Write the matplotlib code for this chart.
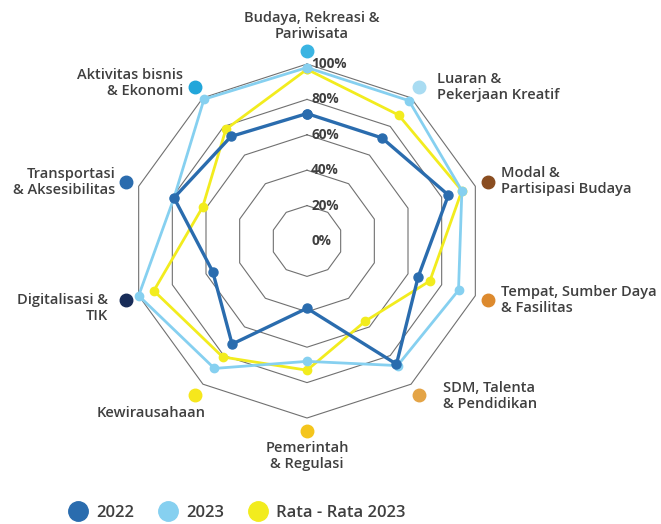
import numpy as np
import matplotlib.pyplot as plt
from matplotlib.lines import Line2D

plt.rcParams['font.family'] = ['Open Sans', 'DejaVu Sans']

categories = ['Budaya, Rekreasi &\nPariwisata', 'Luaran &\nPekerjaan Kreatif',
              'Modal &\nPartisipasi Budaya', 'Tempat, Sumber Daya\n& Fasilitas',
              'SDM, Talenta\n& Pendidikan', 'Pemerintah\n& Regulasi', 'Kewirausahaan',
              'Digitalisasi &\nTIK', 'Transportasi\n& Aksesibilitas',
              'Aktivitas bisnis\n& Ekonomi']
cat_colors = ['#3ab4e2', '#a9dcf2', '#8a4d20', '#dd8a2e', '#e4a446',
              '#f4c51c', '#f6e71c', '#182c58', '#2b6cae', '#22a6da']

v2022 = [0.72, 0.72, 0.84, 0.66, 0.86, 0.38, 0.72, 0.56, 0.79, 0.73]
v2023 = [0.98, 0.98, 0.92, 0.90, 0.87, 0.68, 0.89, 1.00, 0.79, 0.99]
v_rata = [0.97, 0.88, 0.92, 0.73, 0.56, 0.73, 0.81, 0.91, 0.62, 0.78]

ring_levels = [0.2, 0.4, 0.6, 0.8, 1.0]
tick_levels = [0.0, 0.2, 0.4, 0.6, 0.8, 1.0]
tick_labels = ['0%', '20%', '40%', '60%', '80%', '100%']

c2022 = '#2a6cae'
c2023 = '#86d0f0'
crata = '#f2ec1e'
text_c = '#3f3f3f'

n = len(categories)
theta = np.linspace(0, 2 * np.pi, n, endpoint=False)
theta_c = np.append(theta, theta[0])


def closed(v):
    return np.append(v, v[0])


fig = plt.figure(figsize=(6.61, 5.24), dpi=100)
ax = fig.add_axes([130 / 661, 106 / 524, 354 / 661, 354 / 524], projection='polar')
ax.set_theta_zero_location('N')
ax.set_theta_direction(-1)
ax.set_ylim(0, 1.0)
ax.grid(False)
ax.spines['polar'].set_visible(False)
ax.set_xticks([])
ax.set_yticks([])

# decagon grid
for r in ring_levels:
    ax.plot(theta_c, [r] * (n + 1), color='#707070', lw=0.8, zorder=1, clip_on=False)

for r, lab in zip(tick_levels, tick_labels):
    ax.annotate(lab, (0, r), xytext=(3, 0), textcoords='offset points',
                ha='left', va='center', fontsize=9.8, fontweight='bold',
                color=text_c, zorder=2)

ax.plot(theta_c, closed(v_rata), color=crata, lw=2.0, marker='o', ms=6,
        zorder=3, clip_on=False)
ax.plot(theta_c, closed(v2023), color=c2023, lw=2.0, marker='o', ms=6,
        zorder=4, clip_on=False)
ax.plot(theta_c, closed(v2022), color=c2022, lw=2.4, marker='o', ms=6.5,
        zorder=5, clip_on=False)

# category labels with colored dots
lab_off = [(5, 25, 'center'), (18, 0, 'left'), (13, 1, 'left'), (13, 0, 'left'),
           (24, -1, 'left'), (0, -25, 'center'), (10, -18, 'right'),
           (-18, -8, 'right'), (-11, 0, 'right'), (-12, 4, 'right')]
for t, lab, col, (dx, dy, ha) in zip(theta, categories, cat_colors, lab_off):
    ax.plot([t], [1.075], marker='o', ms=9, color=col, clip_on=False, zorder=6)
    ax.annotate(lab, (t, 1.075), xytext=(dx * 0.72, dy * 0.72),
                textcoords='offset points', ha=ha, va='center', multialignment=ha,
                fontsize=10.5, fontweight='semibold', color=text_c, linespacing=1.2,
                annotation_clip=False)

handles = [Line2D([], [], ls='none', marker='o', ms=14, color=c)
           for c in (c2022, c2023, crata)]
fig.legend(handles, ['2022', '2023', 'Rata - Rata 2023'], loc='center',
           bbox_to_anchor=(237 / 661, 1 - 513 / 524), ncol=3, frameon=False,
           handletextpad=0.5, columnspacing=1.4, handlelength=1.2,
           labelcolor=text_c, prop={'weight': 'semibold', 'size': 12})

fig.savefig('out.png', dpi=100)
